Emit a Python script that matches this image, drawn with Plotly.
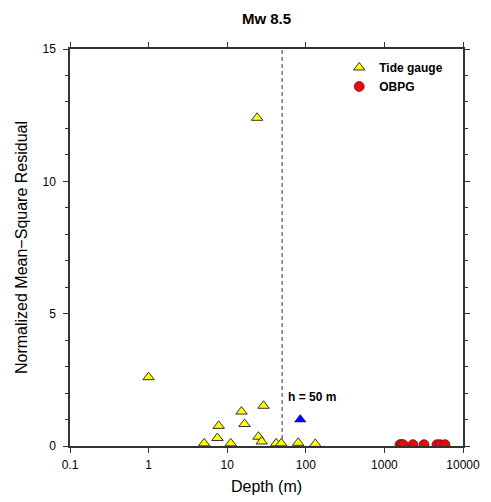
import plotly.graph_objects as go

# Data
tide_depth = [1, 24, 5.1, 7.5, 7.8, 11.1, 15.2, 16.6, 29, 25, 27.5, 42, 48.7, 80, 132]
tide_resid = [2.6, 12.4, 0.1, 0.3, 0.76, 0.1, 1.3, 0.83, 1.52, 0.35, 0.17, 0.1, 0.1, 0.12, 0.08]
best_depth = [85]
best_resid = [1.0]
obpg_depth = [1580, 1650, 1730, 2310, 3190, 4670, 5100, 5900]
obpg_resid = [0.05, 0.05, 0.05, 0.05, 0.05, 0.05, 0.05, 0.05]
h_line_x = [50, 50]
h_line_y = [0, 15]
x_tickvals = [0.1, 1, 10, 100, 1000, 10000]
x_ticktext = ["0.1", "1", "10", "100", "1000", "10000"]

FONT = "Liberation Sans, Arial, Helvetica, sans-serif"
fig = go.Figure()

fig.add_trace(go.Scatter(
    x=h_line_x, y=h_line_y, mode="lines",
    line=dict(color="#555555", width=1.2, dash="4px,3px"),
    showlegend=False, hoverinfo="skip"))

fig.add_trace(go.Scatter(
    x=tide_depth, y=tide_resid, mode="markers", name="<b>Tide gauge</b>",
    marker=dict(symbol="triangle-up", size=10, color="#ffff00",
                line=dict(color="#333333", width=1))))

fig.add_trace(go.Scatter(
    x=obpg_depth, y=obpg_resid, mode="markers", name="<b>OBPG</b>",
    marker=dict(symbol="circle", size=10, color="#ff0000",
                line=dict(color="#333333", width=0.8))))

fig.add_trace(go.Scatter(
    x=best_depth, y=best_resid, mode="markers", showlegend=False,
    marker=dict(symbol="triangle-up", size=10, color="#0000ff",
                line=dict(color="#0000aa", width=0.5))))

fig.add_annotation(x=1.699, y=1.85, xref="x", yref="y", text="<b>h = 50 m</b>",
                   showarrow=False, xanchor="left", yanchor="middle", xshift=4,
                   font=dict(family=FONT, size=12, color="black"))

axis_common = dict(showgrid=False, zeroline=False, showline=True, linecolor="#333333",
                   linewidth=1.5, mirror="allticks", ticks="outside", ticklen=5,
                   tickcolor="#333333", tickwidth=1,
                   tickfont=dict(family=FONT, size=12, color="black"))

fig.update_xaxes(type="log", range=[-1, 4], tickvals=x_tickvals, ticktext=x_ticktext,
                 ticklabelstandoff=2,
                 title=dict(text="Depth (m)", font=dict(family=FONT, size=16, color="black"),
                            standoff=10),
                 **axis_common)
fig.update_yaxes(range=[0, 15], tickvals=[0, 5, 10, 15], ticklabelstandoff=5,
                 minor=dict(ticks="outside", ticklen=3, dtick=1, tickcolor="#333333"),
                 title=dict(text="Normalized Mean\u2212Square Residual",
                            font=dict(family=FONT, size=16, color="black"), standoff=11),
                 **axis_common)

fig.update_layout(
    width=491, height=502,
    margin=dict(l=62, r=36, t=41, b=64),
    paper_bgcolor="white", plot_bgcolor="white",
    title=dict(text="<b>Mw 8.5</b>", x=0.5, xref="paper", xanchor="center",
               y=0.979, yanchor="middle",
               font=dict(family=FONT, size=15, color="black")),
    legend=dict(x=0.685, y=0.99, xanchor="left", yanchor="top", bgcolor="rgba(0,0,0,0)",
                itemwidth=30, font=dict(family=FONT, size=12, color="black"),
                tracegroupgap=2),
    showlegend=True,
)

fig.write_html("out.html")
